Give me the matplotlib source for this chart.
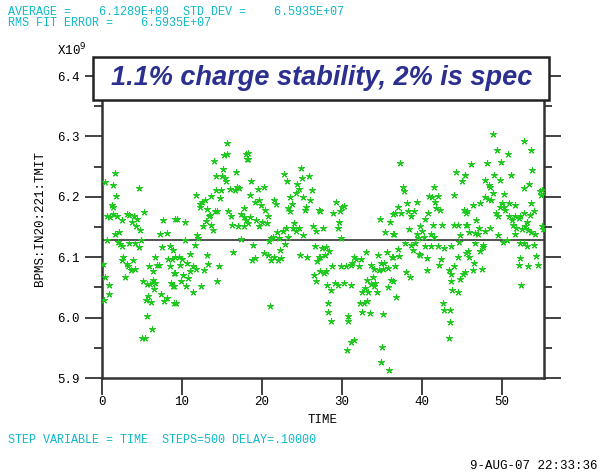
import matplotlib
matplotlib.use("Agg")
import matplotlib.pyplot as plt
from matplotlib.patches import Rectangle

# BPM TMIT readings (units of 1e9) vs time (s)
time_a = [0.38, 1.67, 1.42, 1.71, 4.63, 1.21, 1.33, 0.58, 1.0, 1.33, 1.83, 2.46, 3.17, 3.33, 4.04,
          4.42, 3.71, 4.21, 4.75, 5.21, 7.67, 9.13, 1.63, 2.17, 0.67, 2.04, 2.25, 2.54, 3.42, 4.13,
          4.63, 4.88, 7.25, 8.08, 7.5, 8.5, 8.83, 0.08, 2.67, 2.5, 3.08, 3.29, 3.83, 3.58, 4.17,
          2.88, 0.38, 0.92, 5.92, 6.63, 6.83, 7.17, 6.42, 8.29, 8.71, 8.5, 9.0, 5.08, 5.58, 6.0,
          6.42, 6.63, 6.54, 0.88, 0.25, 5.71, 5.46, 6.08, 7.38, 8.08, 7.79, 8.58, 8.83, 9.0, 5.63,
          6.21, 4.96, 5.38]
tmit_a = [6.224, 6.239, 6.219, 6.202, 6.215, 6.186, 6.183, 6.169, 6.166, 6.171, 6.169, 6.162, 6.172,
          6.170, 6.169, 6.164, 6.158, 6.152, 6.145, 6.175, 6.162, 6.164, 6.138, 6.142, 6.129, 6.126,
          6.122, 6.118, 6.123, 6.124, 6.117, 6.128, 6.139, 6.140, 6.117, 6.118, 6.112, 6.089, 6.101,
          6.096, 6.089, 6.085, 6.095, 6.079, 6.081, 6.068, 6.068, 6.054, 6.086, 6.101, 6.087, 6.087,
          6.077, 6.097, 6.097, 6.086, 6.074, 6.061, 6.055, 6.055, 6.063, 6.057, 6.048, 6.039, 6.030,
          6.035, 6.030, 6.026, 6.039, 6.033, 6.027, 6.058, 6.053, 6.024, 6.003, 5.981, 5.966, 5.966]

time_b = [15.65, 13.98, 15.28, 15.7, 18.05, 18.13, 15.14, 14.23, 15.06, 15.35, 15.56, 16.73, 11.72,
          14.31, 14.94, 14.73, 13.69, 15.97, 16.6, 16.9, 17.2, 12.85, 12.56, 12.23, 12.3, 13.13,
          14.1, 14.43, 13.56, 13.4, 12.98, 12.64, 13.69, 13.9, 15.77, 16.19, 16.31, 17.02, 17.73,
          17.77, 17.44, 17.73, 17.98, 9.4, 10.44, 11.89, 12.02, 11.6, 10.35, 17.35, 16.4, 13.19,
          10.97, 13.27, 14.64, 12.73, 9.1, 9.64, 10.06, 10.64, 9.72, 11.39, 11.72, 11.0, 9.1, 10.14,
          10.75, 9.93, 10.56, 12.43, 14.43, 11.39, 9.0, 9.21]
tmit_b = [6.290, 6.260, 6.270, 6.271, 6.271, 6.262, 6.246, 6.235, 6.235, 6.231, 6.227, 6.241, 6.203,
          6.212, 6.211, 6.198, 6.202, 6.213, 6.212, 6.216, 6.215, 6.195, 6.192, 6.184, 6.189, 6.180,
          6.176, 6.177, 6.170, 6.168, 6.160, 6.152, 6.154, 6.145, 6.176, 6.168, 6.154, 6.152, 6.152,
          6.181, 6.172, 6.166, 6.162, 6.164, 6.158, 6.137, 6.132, 6.121, 6.129, 6.131, 6.108, 6.104,
          6.106, 6.089, 6.086, 6.079, 6.101, 6.101, 6.097, 6.090, 6.087, 6.085, 6.080, 6.078, 6.074,
          6.070, 6.065, 6.060, 6.053, 6.053, 6.060, 6.043, 6.053, 6.025]

time_c = [18.23, 18.23, 24.91, 25.95, 22.73, 23.15, 18.65, 25.03, 24.37, 24.62, 24.28, 19.57, 20.24,
          26.24, 18.52, 23.57, 25.2, 19.69, 19.19, 19.9, 21.57, 21.78, 26.07, 23.78, 23.24, 23.57,
          25.53, 25.45, 27.12, 20.4, 20.73, 18.52, 19.27, 18.23, 20.03, 20.61, 19.69, 23.99, 23.03,
          22.69, 23.86, 24.7, 24.28, 26.37, 26.78, 21.86, 21.36, 21.15, 22.19, 23.32, 25.2, 20.94,
          18.94, 22.9, 22.32, 20.32, 20.73, 21.57, 22.4, 19.19, 18.77, 21.15, 21.99, 24.78, 25.61,
          26.66, 27.12, 26.91, 26.58, 26.78, 27.28, 21.07]
tmit_c = [6.273, 6.263, 6.248, 6.234, 6.238, 6.226, 6.227, 6.231, 6.222, 6.213, 6.206, 6.213, 6.216,
          6.212, 6.203, 6.200, 6.200, 6.195, 6.191, 6.187, 6.194, 6.188, 6.194, 6.189, 6.182, 6.176,
          6.183, 6.178, 6.178, 6.178, 6.168, 6.166, 6.162, 6.156, 6.158, 6.156, 6.151, 6.156, 6.148,
          6.144, 6.148, 6.148, 6.144, 6.152, 6.144, 6.141, 6.134, 6.132, 6.132, 6.134, 6.137, 6.127,
          6.121, 6.122, 6.112, 6.107, 6.104, 6.101, 6.098, 6.098, 6.095, 6.095, 6.096, 6.104, 6.101,
          6.119, 6.101, 6.093, 6.070, 6.060, 6.078, 6.019]

time_d = [29.25, 30.08, 30.29, 28.95, 29.79, 27.28, 29.66, 29.54, 27.66, 34.75, 36.0, 36.42, 35.37,
          36.42, 29.95, 27.58, 28.04, 28.45, 27.91, 27.28, 33.0, 34.58, 35.63, 36.25, 31.54, 31.74,
          31.33, 32.37, 31.12, 32.12, 29.95, 30.54, 28.83, 33.63, 34.88, 35.29, 33.97, 34.6, 35.1,
          35.73, 27.28, 27.78, 27.99, 33.92, 33.21, 33.63, 34.04, 34.17, 34.46, 32.92, 32.58, 33.33,
          36.13, 35.84, 29.16, 29.5, 30.25, 31.16, 28.2, 28.62, 28.29, 32.25, 32.79, 33.21, 28.33,
          32.5, 33.5, 35.17, 28.7, 30.83, 30.83, 31.2, 31.54, 30.71, 34.99, 34.88, 35.92]
tmit_d = [6.192, 6.184, 6.185, 6.174, 6.177, 6.177, 6.158, 6.148, 6.148, 6.164, 6.158, 6.172, 6.141,
          6.139, 6.132, 6.115, 6.117, 6.110, 6.103, 6.101, 6.108, 6.103, 6.108, 6.101, 6.101, 6.097,
          6.091, 6.097, 6.087, 6.085, 6.086, 6.085, 6.086, 6.087, 6.090, 6.091, 6.080, 6.079, 6.080,
          6.082, 6.078, 6.074, 6.078, 6.068, 6.063, 6.056, 6.053, 6.057, 6.043, 6.049, 6.042, 6.043,
          6.063, 6.050, 6.058, 6.054, 6.058, 6.054, 6.054, 6.046, 6.025, 6.024, 6.025, 6.027, 6.010,
          6.010, 6.008, 6.006, 5.995, 6.003, 5.995, 5.960, 5.963, 5.946, 5.951, 5.927, 5.914]

time_e = [37.34, 37.63, 37.76, 44.31, 45.47, 45.06, 41.51, 44.01, 40.97, 41.3, 42.01, 41.72, 38.17,
          39.42, 37.05, 41.8, 42.26, 36.63, 37.46, 38.3, 39.09, 38.67, 40.8, 40.38, 45.26, 45.55,
          41.43, 42.55, 44.1, 44.51, 45.55, 39.84, 38.38, 36.5, 39.42, 40.05, 40.26, 41.18, 41.59,
          39.5, 44.85, 44.64, 37.96, 38.72, 39.21, 38.88, 39.63, 39.84, 40.47, 41.1, 42.01, 42.76,
          43.72, 37.05, 37.21, 36.42, 40.68, 42.47, 44.51, 45.55, 42.14, 44.01, 36.63, 43.43, 43.64,
          38.05, 38.59, 40.68, 45.14, 44.85, 43.64, 36.42, 43.76, 44.48, 36.84, 42.68, 42.85, 43.6,
          43.6, 43.47]
tmit_e = [6.256, 6.217, 6.209, 6.242, 6.237, 6.226, 6.216, 6.203, 6.202, 6.199, 6.202, 6.192, 6.190,
          6.192, 6.184, 6.181, 6.179, 6.173, 6.173, 6.176, 6.176, 6.168, 6.173, 6.163, 6.179, 6.174,
          6.154, 6.154, 6.153, 6.154, 6.154, 6.151, 6.146, 6.139, 6.139, 6.143, 6.134, 6.139, 6.134,
          6.132, 6.137, 6.126, 6.124, 6.121, 6.124, 6.112, 6.106, 6.104, 6.118, 6.118, 6.118, 6.116,
          6.118, 6.113, 6.102, 6.101, 6.098, 6.097, 6.101, 6.107, 6.087, 6.086, 6.085, 6.079, 6.072,
          6.076, 6.068, 6.079, 6.073, 6.064, 6.060, 6.061, 6.046, 6.043, 6.034, 6.024, 6.012, 6.012,
          5.993, 5.966]

time_f = [48.98, 52.86, 49.4, 50.78, 53.65, 46.18, 48.23, 49.94, 53.86, 45.43, 49.1, 51.11, 47.94,
          49.81, 48.36, 48.57, 53.44, 52.86, 54.82, 55.11, 54.94, 48.98, 47.94, 48.27, 48.69, 50.35,
          47.31, 46.36, 50.1, 50.94, 49.81, 50.35, 50.44, 51.69, 53.69, 49.27, 49.6, 50.94, 51.27,
          51.69, 52.11, 52.32, 52.74, 53.57, 53.99, 45.64, 46.81, 51.48, 53.15, 52.9, 53.28, 51.82,
          52.61, 45.64, 47.19, 48.57, 45.93, 46.69, 47.02, 47.94, 49.52, 51.61, 53.69, 54.19, 55.0,
          55.19, 50.23, 50.65, 52.32, 52.86, 53.15, 53.99, 46.69, 47.73, 47.73, 45.85, 47.31, 45.93,
          54.28, 52.32, 46.48, 52.11, 53.28, 54.61, 46.36, 47.52, 52.44, 45.43]
tmit_f = [6.304, 6.292, 6.277, 6.271, 6.277, 6.254, 6.256, 6.257, 6.244, 6.237, 6.236, 6.236, 6.228,
          6.228, 6.219, 6.216, 6.222, 6.214, 6.210, 6.212, 6.203, 6.206, 6.200, 6.197, 6.195, 6.204,
          6.190, 6.187, 6.190, 6.190, 6.184, 6.184, 6.178, 6.187, 6.190, 6.173, 6.169, 6.169, 6.162,
          6.168, 6.165, 6.169, 6.174, 6.170, 6.177, 6.176, 6.162, 6.154, 6.159, 6.151, 6.145, 6.148,
          6.146, 6.154, 6.148, 6.148, 6.141, 6.140, 6.139, 6.143, 6.137, 6.139, 6.141, 6.139, 6.151,
          6.146, 6.125, 6.129, 6.123, 6.124, 6.119, 6.121, 6.123, 6.121, 6.117, 6.110, 6.110, 6.101,
          6.102, 6.098, 6.090, 6.087, 6.086, 6.087, 6.079, 6.081, 6.054, 6.075]

average = 6.1289
header1 = "AVERAGE =    6.1289E+09  STD DEV =    6.5935E+07"
header2 = "RMS FIT ERROR =    6.5935E+07"
footer = "STEP VARIABLE = TIME  STEPS=500 DELAY=.10000"
stamp = "9-AUG-07 22:33:36"
title = "1.1% charge stability, 2% is spec"

time_all = time_a + time_b + time_c + time_d + time_e + time_f
tmit_all = tmit_a + tmit_b + tmit_c + tmit_d + tmit_e + tmit_f

mono = "Liberation Mono"
cyan = "#10b8c8"

fig = plt.figure(figsize=(6.03, 4.73), dpi=100)
ax = fig.add_axes([102/603, 1 - 378/473, 442/603, 320/473])

ax.scatter(time_all, tmit_all, marker=(5, 2, 0), s=18, color="#1ec81e", linewidths=0.8, zorder=3)
ax.axhline(average, color="#333333", lw=1.2, zorder=2)

ax.set_xlim(0, 55.3)
ax.set_ylim(5.9, 6.43)
ax.set_xticks([0, 10, 20, 30, 40, 50])
ax.set_yticks([5.9, 6.0, 6.1, 6.2, 6.3, 6.4])
ax.set_yticks([5.95, 6.05, 6.15, 6.25, 6.35], minor=True)
ax.tick_params(axis="both", which="major", direction="out", length=12, width=1.3,
               color="#333333", labelsize=9, right=True)
ax.tick_params(axis="x", which="major", pad=1)
ax.tick_params(axis="y", which="major", pad=4)
ax.tick_params(axis="y", which="minor", direction="out", length=6, width=1.3,
               color="#333333", right=True)
for lbl in ax.get_xticklabels() + ax.get_yticklabels():
    lbl.set_fontfamily(mono)
for sp in ax.spines.values():
    sp.set_linewidth(1.8)
    sp.set_color("#333333")

ax.set_xlabel("TIME", fontfamily=mono, fontsize=9, labelpad=4)
ax.set_ylabel("BPMS:IN20:221:TMIT", fontfamily=mono, fontsize=9, labelpad=8)

fig.text(57/603, 1 - 50/473, "X10$^9$", fontfamily=mono, fontsize=9, va="center")

# title box
fig.patches.append(Rectangle((93/603, 1 - 100/473), 456/603, 43/473, transform=fig.transFigure,
                             facecolor="white", edgecolor="#222222", lw=1.8, zorder=5))
fig.text(322/603, 1 - 78/473, title, fontfamily="Liberation Sans", fontsize=19.5,
         fontweight="bold", fontstyle="italic", color="#2b2f8f", ha="center", va="center", zorder=6)

fig.text(8/603, 1 - 12/473, header1, fontfamily=mono, fontsize=8.5, color=cyan, va="center")
fig.text(8/603, 1 - 23/473, header2, fontfamily=mono, fontsize=8.5, color=cyan, va="center")
fig.text(8/603, 1 - 440/473, footer, fontfamily=mono, fontsize=8.5, color=cyan, va="center")
fig.text(598/603, 1 - 466/473, stamp, fontfamily=mono, fontsize=9, color="black",
         ha="right", va="center")

fig.savefig("out.png", dpi=100)
